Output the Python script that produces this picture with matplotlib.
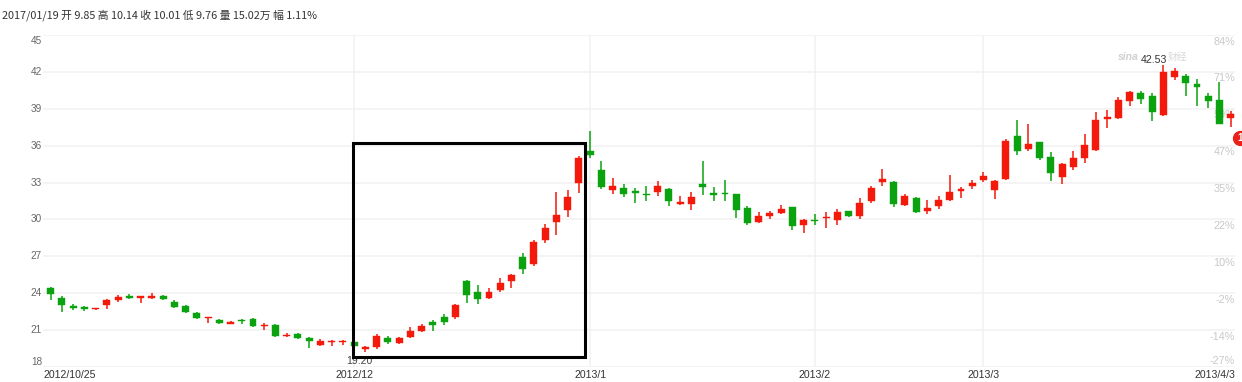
import matplotlib
matplotlib.use("Agg")
import matplotlib.pyplot as plt
from matplotlib.patches import Rectangle
from matplotlib.transforms import offset_copy
import numpy as np

# ---------------- data ----------------
opens = [24.42, 23.61, 22.97, 22.89, 22.68, 23.02, 23.41, 23.74, 23.59, 23.59,
         23.74, 23.28, 22.99, 22.40, 22.00, 21.85, 21.52, 21.80, 21.91, 21.34,
         21.41, 20.53, 20.72, 20.35, 19.76, 20.04, 20.04, 20.03, 19.44, 19.63,
         20.38, 19.98, 20.41, 20.95, 21.62, 22.05, 22.05, 25.02, 24.10, 23.61,
         24.29, 24.96, 26.98, 26.34, 28.30, 29.81, 30.73, 33.00, 35.53, 34.00,
         32.38, 32.57, 32.33, 32.06, 32.25, 32.51, 31.25, 31.25, 32.92, 32.16,
         32.19, 32.03, 30.92, 29.77, 30.30, 30.49, 30.98, 29.55, 29.93, 30.09,
         29.95, 30.65, 30.30, 31.49, 33.08, 33.05, 31.17, 31.76, 30.71, 31.09,
         31.55, 32.33, 32.73, 33.24, 32.36, 33.29, 36.80, 35.76, 36.27, 35.06,
         33.46, 34.23, 34.98, 35.65, 38.17, 38.28, 39.67, 40.26, 40.05, 38.49,
         41.55, 41.65, 41.01, 40.05, 39.75, 38.22]
highs = [24.52, 23.74, 23.09, 22.97, 22.81, 23.51, 23.84, 23.92, 23.79, 24.05,
         23.84, 23.46, 23.04, 22.45, 22.09, 21.93, 21.72, 21.88, 21.96, 21.60,
         21.47, 20.74, 20.77, 20.41, 20.28, 20.22, 20.17, 20.14, 19.71, 20.65,
         20.51, 20.46, 21.22, 21.46, 21.86, 22.35, 23.16, 25.07, 24.64, 24.42,
         25.23, 25.58, 27.25, 28.33, 29.63, 32.24, 32.37, 35.12, 37.23, 34.75,
         33.40, 32.87, 32.57, 32.70, 33.13, 32.57, 31.87, 32.22, 34.75, 32.62,
         33.24, 32.08, 31.09, 30.60, 30.71, 31.17, 31.03, 30.04, 30.44, 30.60,
         30.84, 30.71, 31.71, 32.76, 34.11, 33.11, 32.06, 31.81, 31.57, 31.89,
         33.62, 32.65, 33.19, 33.83, 33.24, 36.51, 38.12, 37.74, 36.27, 35.46,
         34.63, 35.60, 36.91, 38.71, 38.87, 39.94, 40.47, 40.47, 40.31, 42.53,
         42.35, 41.81, 41.44, 40.26, 41.14, 38.84]
lows = [23.43, 22.50, 22.66, 22.58, 22.66, 22.73, 23.25, 23.53, 23.22, 23.53,
        23.41, 22.76, 22.40, 21.91, 21.60, 21.52, 21.47, 21.47, 21.26, 21.03,
        20.48, 20.43, 20.30, 19.53, 19.68, 19.71, 19.81, 19.65, 19.20, 19.49,
        19.89, 19.89, 20.33, 20.87, 20.95, 21.40, 21.92, 23.18, 23.16, 23.56,
        24.10, 24.42, 25.56, 26.23, 28.06, 28.74, 30.22, 32.19, 35.02, 32.46,
        32.08, 31.79, 31.30, 31.52, 31.92, 31.11, 31.14, 30.76, 31.98, 31.49,
        31.49, 30.14, 29.52, 29.71, 30.06, 30.44, 29.15, 28.88, 29.58, 29.28,
        29.55, 30.22, 30.01, 31.30, 32.70, 31.03, 31.09, 30.52, 30.47, 30.82,
        31.50, 31.77, 32.44, 33.08, 31.69, 33.19, 35.28, 35.60, 34.85, 33.11,
        32.92, 34.04, 34.63, 35.60, 37.47, 38.20, 39.24, 39.40, 38.01, 38.41,
        41.36, 40.02, 39.21, 39.08, 37.74, 37.53]
closes = [23.92, 23.07, 22.76, 22.68, 22.78, 23.41, 23.72, 23.59, 23.74, 23.77,
          23.51, 22.89, 22.45, 21.98, 22.05, 21.57, 21.70, 21.72, 21.34, 21.39,
          20.53, 20.61, 20.38, 20.15, 20.12, 20.12, 20.12, 19.71, 19.60, 20.51,
          20.00, 20.38, 20.95, 21.30, 21.38, 21.65, 23.08, 23.86, 23.53, 24.10,
          24.80, 25.45, 25.96, 28.17, 29.27, 30.33, 31.84, 34.99, 35.23, 32.65,
          32.76, 32.08, 32.11, 31.95, 32.70, 31.49, 31.41, 31.84, 32.65, 32.00,
          32.06, 30.79, 29.74, 30.28, 30.52, 30.87, 29.47, 29.96, 29.85, 30.20,
          30.57, 30.30, 31.30, 32.57, 33.27, 31.27, 31.89, 30.57, 30.92, 31.62,
          32.22, 32.49, 32.95, 33.51, 33.11, 36.40, 35.54, 36.11, 34.96, 33.78,
          34.47, 34.98, 36.05, 38.12, 38.36, 39.75, 40.34, 39.78, 38.71, 41.97,
          42.11, 41.12, 40.80, 39.62, 37.79, 38.60]

month_labels = ["2012/10/25", "2012/12", "2013/1", "2013/2", "2013/3", "2013/4/3"]
month_index = [0, 27, 48, 68, 83, 105]

price_ticks = [18, 21, 24, 27, 30, 33, 36, 39, 42, 45]
pct_labels = ["-27%", "-14%", "-2%", "10%", "22%", "35%", "47%", "59%", "71%", "84%"]

header = "2017/01/19 开 9.85 高 10.14 收 10.01 低 9.76 量 15.02万 幅 1.11%"

# ---------------- figure ----------------
W, H = 1242, 382
fig = plt.figure(figsize=(W / 100, H / 100), dpi=100)
fig.patch.set_facecolor("white")

left_px, right_px, top_px, bot_px = 43, 1235, 35, 367
ax = fig.add_axes([left_px / W, 1 - bot_px / H, (right_px - left_px) / W, (bot_px - top_px) / H])
ax.set_facecolor("white")
for s in ax.spines.values():
    s.set_visible(False)

ax.set_ylim(18, 45)
ax.set_xlim(-0.685, 105.38)

RED = "#f31a0c"
GREEN = "#0aa30f"

# grid
for t in price_ticks:
    ax.axhline(t, color="#f1f1f1", lw=1.1, zorder=0)
for i in month_index[1:-1]:
    ax.axvline(i, color="#f1f1f1", lw=1.1, zorder=0)

# candles
o = np.array(opens); c = np.array(closes); h = np.array(highs); l = np.array(lows)
x = np.arange(len(o))
colors = np.where(c >= o, RED, GREEN)
ax.vlines(x, l, h, colors=colors, lw=1.1, zorder=2)
body_bottom = np.minimum(o, c)
body_h = np.maximum(np.abs(c - o), 0.09)
ax.bar(x, body_h, bottom=body_bottom, width=0.62, color=colors, edgecolor=colors, lw=0.3, zorder=3)

# ticks
ax.set_xticks([])
ax.set_yticks([])

tick_font = dict(family=["Liberation Sans", "DejaVu Sans"])
# left price labels
for t in price_ticks:
    dy = 0
    if t == 45:
        dy = -6
    elif t == 18:
        dy = 5
    tr = offset_copy(ax.transData, fig=fig, x=-1, y=dy, units="dots")
    ax.text(ax.get_xlim()[0], t, str(t), transform=tr, ha="right", va="center",
            fontsize=7.2, color="#666666", **tick_font)
# right percent labels
for t, lab in zip(price_ticks, pct_labels):
    dy = -6.5 if t != 18 else 5.5
    tr = offset_copy(ax.transData, fig=fig, x=0, y=dy, units="dots")
    ax.text(ax.get_xlim()[1], t, lab, transform=tr, ha="right", va="center",
            fontsize=7.8, color="#c9c9c9", zorder=1, **tick_font)

# date labels
for i, lab in zip(month_index, month_labels):
    if i == month_index[0]:
        xx, ha = ax.get_xlim()[0], "left"
    elif i == month_index[-1]:
        xx, ha = ax.get_xlim()[1], "right"
    else:
        xx, ha = i, "center"
    tr = offset_copy(ax.transData, fig=fig, x=0, y=-8, units="dots")
    ax.text(xx, 18, lab, transform=tr, ha=ha, va="center", fontsize=7.6,
            color="#333333", clip_on=False, **tick_font)

# max/min labels
imax = int(np.argmax(h)); imin = int(np.argmin(l))
ax.text(imax + 0.3, h[imax], f"{h[imax]:.2f}", ha="right", va="bottom",
        fontsize=7.6, color="#333333", zorder=5, **tick_font)
tr = offset_copy(ax.transData, fig=fig, x=0, y=-4, units="dots")
ax.text(imin - 0.5, l[imin], f"{l[imin]:.2f}", transform=tr, ha="center", va="top",
        fontsize=7.6, color="#444444", zorder=5, **tick_font)

# watermark
fig.text(1139 / W, 1 - 57 / H, "sina", fontsize=7.5, color="#d0d0d0", style="italic",
         fontweight="bold", va="center", ha="right", family=["Liberation Sans"], zorder=0)
fig.text(1168 / W, 1 - 57 / H, "财经", fontsize=7, color="#d8d8d8", style="italic",
         va="center", ha="left", family=["Noto Sans CJK SC"], zorder=0)

# highlight box
ax.add_patch(Rectangle((26.93, 18.81), 47.54 - 26.93, 36.22 - 18.81, fill=False,
                       edgecolor="black", lw=2.2, zorder=6, clip_on=False))

# red badge at right edge
ax.plot([105.8], [36.62], marker="o", markersize=10, color="#e8211b", clip_on=False, zorder=7)
ax.text(105.8, 36.62, "1", color="white", fontsize=7, fontweight="bold", ha="center",
        va="center", clip_on=False, zorder=8, **tick_font)

# header
fig.text(2 / W, 1 - 15 / H, header, fontsize=7.8, color="#333333", ha="left", va="center",
         family=["Noto Sans CJK SC", "DejaVu Sans"])

fig.savefig("out.png", dpi=100, facecolor="white")
